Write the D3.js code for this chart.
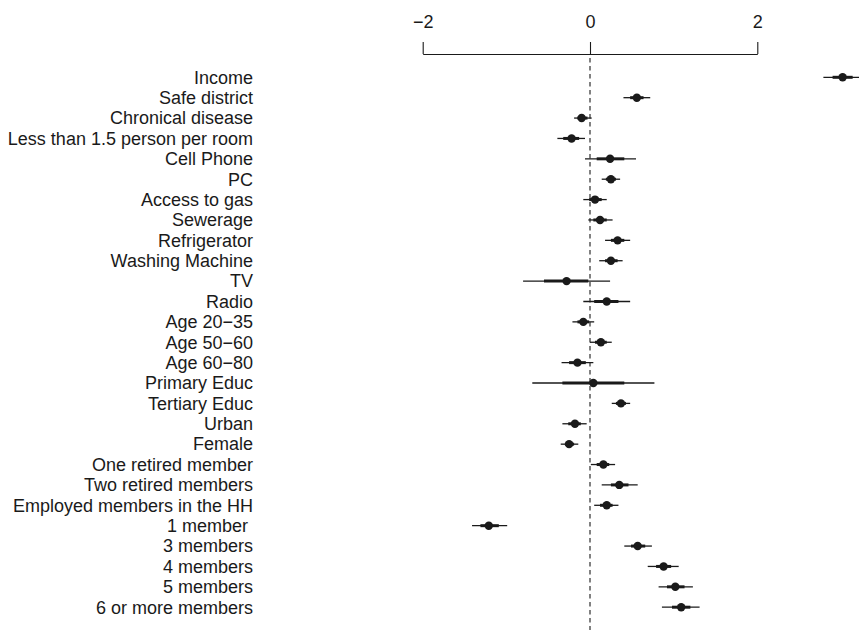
<!DOCTYPE html>
<html><head><meta charset="utf-8">
<script src="https://cdn.jsdelivr.net/npm/d3@7"></script>
<style>body{margin:0;background:#fff}svg{display:block}</style>
</head><body>
<svg id="c" width="859" height="630"></svg>
<script>
const categories = ["Income","Safe district","Chronical disease","Less than 1.5 person per room","Cell Phone","PC","Access to gas","Sewerage","Refrigerator","Washing Machine","TV","Radio","Age 20\u221235","Age 50\u221260","Age 60\u221280","Primary Educ","Tertiary Educ","Urban","Female","One retired member","Two retired members","Employed members in the HH","1 member ","3 members","4 members","5 members","6 or more members"];
const estimate = [3.02,0.56,-0.10,-0.22,0.24,0.25,0.06,0.12,0.33,0.25,-0.28,0.20,-0.08,0.13,-0.15,0.04,0.37,-0.18,-0.25,0.16,0.35,0.20,-1.21,0.57,0.88,1.02,1.09];
const thinLo = [2.79,0.40,-0.19,-0.39,-0.06,0.14,-0.08,-0.02,0.18,0.11,-0.80,-0.08,-0.21,0.00,-0.34,-0.69,0.26,-0.33,-0.35,0.01,0.14,0.05,-1.41,0.41,0.69,0.82,0.86];
const thinHi = [3.25,0.72,0.02,-0.06,0.55,0.36,0.20,0.27,0.48,0.39,0.24,0.48,0.05,0.26,0.04,0.77,0.48,-0.04,-0.14,0.30,0.57,0.34,-0.99,0.74,1.06,1.23,1.31];
const thickLo = [2.90,0.48,-0.15,-0.32,0.08,0.19,-0.01,0.04,0.25,0.18,-0.55,0.05,-0.15,0.06,-0.25,-0.33,0.31,-0.26,-0.30,0.08,0.25,0.12,-1.31,0.49,0.79,0.92,0.98];
const thickHi = [3.14,0.64,-0.03,-0.13,0.41,0.31,0.14,0.20,0.41,0.33,-0.02,0.34,-0.01,0.20,-0.05,0.41,0.43,-0.11,-0.19,0.23,0.46,0.27,-1.09,0.66,0.97,1.13,1.20];
const tickValues = [-2,0,2];
const tickLabels = ["\u22122","0","2"];

const svg = d3.select("#c");
const x = d3.scaleLinear().domain([-2,2]).range([422.7,757.3]);
const y = d3.scalePoint().domain(categories).range([77.3,607.2]);
const ink = "#1a1a1a";
const font = "Liberation Sans, Arial, sans-serif";

// top axis
const axisY = 54;
const ax = svg.append("g").attr("transform",`translate(0,${axisY})`)
  .call(d3.axisTop(x).tickValues(tickValues).tickFormat((d,i)=>tickLabels[i]).tickSize(12).tickPadding(14).tickSizeOuter(0));
ax.select(".domain").attr("stroke",ink).attr("stroke-width",1.1);
ax.selectAll(".tick line").attr("stroke",ink).attr("stroke-width",1.1);
ax.selectAll(".tick text").attr("fill",ink).attr("font-family",font).attr("font-size",18);

// zero line
svg.append("line").attr("x1",x(0)).attr("x2",x(0)).attr("y1",58).attr("y2",630)
  .attr("stroke",ink).attr("stroke-width",1.1).attr("stroke-dasharray","4.5,3.5");

const rows = categories.map((c,i)=>({c,e:estimate[i],tl:thinLo[i],th:thinHi[i],kl:thickLo[i],kh:thickHi[i]}));

// labels
svg.append("g").selectAll("text").data(rows).join("text")
  .attr("x",253).attr("y",d=>y(d.c)).attr("dy","0.35em").attr("text-anchor","end")
  .attr("font-family",font).attr("font-size",18).attr("fill",ink)
  .style("white-space","pre").text(d=>d.c);

const g = svg.append("g");
g.selectAll("line.thin").data(rows).join("line").attr("class","thin")
  .attr("x1",d=>x(d.tl)).attr("x2",d=>x(d.th)).attr("y1",d=>y(d.c)).attr("y2",d=>y(d.c))
  .attr("stroke",ink).attr("stroke-width",1.3);
g.selectAll("line.thick").data(rows).join("line").attr("class","thick")
  .attr("x1",d=>x(d.kl)).attr("x2",d=>x(d.kh)).attr("y1",d=>y(d.c)).attr("y2",d=>y(d.c))
  .attr("stroke",ink).attr("stroke-width",3);
g.selectAll("circle").data(rows).join("circle")
  .attr("cx",d=>x(d.e)).attr("cy",d=>y(d.c)).attr("r",4.2).attr("fill",ink);
</script>
</body></html>
